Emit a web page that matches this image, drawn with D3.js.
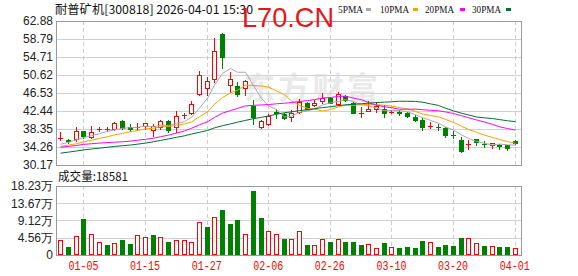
<!DOCTYPE html>
<html><head><meta charset="utf-8">
<script src="https://cdn.jsdelivr.net/npm/d3@7/dist/d3.min.js"></script>
<style>html,body{margin:0;padding:0;background:#fff;}svg{display:block;}</style>
</head><body>
<script>
// ---- data ----
const title = "耐普矿机[300818] 2026-04-01 15:30";
const tickIndex  = [3, 11, 19, 27, 35, 43, 51, 59];
const tickLabels = ["01-05","01-15","01-27","02-06","02-26","03-10","03-20","04-01"];
const priceTicks = [62.88,58.79,54.71,50.62,46.53,42.44,38.35,34.26,30.17];
const volTicks = [18.23,13.67,9.12,4.56,0];
const volTickLabels = ["18.23万","13.67万","9.12万","4.56万","0"];
const open  = [36.2,35.75,36.0,37.9,36.6,38.3,38.3,38.4,40.1,38.7,
               38.8,39.0,38.2,38.9,40.1,38.7,41.3,41.9,46.2,47.7,
               49.6,59.9,48.3,48.1,47.6,43.6,38.9,39.4,42.2,41.7,
               41.0,42.1,44.3,43.7,44.6,45.3,44.0,45.85,44.3,41.85,
               42.5,42.8,42.9,42.2,42.3,42.05,41.1,40.4,38.8,38.9,
               38.6,37.05,35.85,34.8,36.0,34.95,34.65,34.7,34.6,35.55];
const close = [36.25,35.65,37.9,36.75,37.6,38.45,38.35,39.6,38.5,38.3,
               38.9,39.6,39.0,40.1,38.1,41.4,41.5,44.0,50.6,49.3,
               56.1,54.8,49.7,46.3,49.3,41.0,40.1,41.4,42.0,40.9,
               41.9,44.5,43.0,44.3,45.3,44.3,46.2,44.95,42.05,41.95,
               42.9,43.6,42.05,42.3,41.9,41.3,40.4,38.9,38.95,38.8,
               37.0,36.95,33.4,34.9,35.4,34.85,35.1,34.4,34.0,35.1];
const high  = [37.7,36.15,38.9,38.0,39.0,38.9,38.8,39.9,40.4,39.4,
               39.6,39.7,39.4,40.5,40.4,42.5,41.9,44.6,51.6,50.2,
               59.0,60.1,51.4,49.1,49.5,44.9,40.5,41.7,42.8,41.9,
               42.7,45.2,44.5,44.9,46.6,45.6,46.8,46.0,44.5,43.3,
               44.8,44.55,43.8,42.6,42.66,42.3,41.5,40.8,40.0,39.4,
               38.9,37.9,36.5,35.85,36.1,35.6,35.2,34.9,34.7,35.85];
const low   = [35.85,35.25,35.7,36.2,36.4,37.8,37.8,38.1,38.3,38.0,
               38.1,38.3,36.8,38.3,37.7,37.7,40.8,41.7,46.0,46.1,
               49.1,52.1,46.8,45.8,46.1,39.5,38.6,39.3,40.9,40.7,
               40.2,41.9,42.8,43.6,44.3,44.2,43.8,44.7,41.9,41.0,
               42.4,42.3,41.0,41.9,41.5,41.0,40.2,38.1,38.5,38.1,
               36.6,36.4,33.1,33.8,34.7,34.3,34.0,33.8,33.6,34.9];
const volume = [3.96,2.03,5.02,9.51,5.46,3.43,2.55,3.08,3.96,2.91,
                5.2,4.67,5.28,4.67,3.43,3.96,3.96,3.43,8.63,7.4,
                9.95,11.9,8.28,9.25,5.55,16.9,9.78,6.25,5.55,4.23,
                4.23,6.25,2.64,2.55,4.14,3.43,4.14,3.43,3.43,2.64,
                2.91,1.76,3.26,2.03,1.76,2.03,1.76,3.7,3.35,2.03,
                2.55,2.29,4.4,4.4,3.08,2.29,2.29,2.03,2.03,1.86];
// moving-average values before enough in-window closes exist
const ma5Head  = [34.9,35.3,35.9,36.4];
const ma10Head = [34.4,34.7,35.0,35.4,35.8,36.2,36.6,37.0,37.35];
const ma20Head = [34.2,34.4,34.6,34.85,35.0,35.15,35.25,35.35,35.45,35.6,35.8,36.0,36.25,36.6,36.95,37.4,37.9,38.5,39.3];
const ma30Head = [32.85,33.1,33.35,33.6,33.8,34.0,34.2,34.4,34.55,34.7,34.9,35.15,35.45,35.75,36.1,36.45,36.8,37.2,37.6,38.0,38.6,39.1,39.5,39.9,40.3,40.7,41.0,41.3,41.7];
const lastVolLabel = "18581";

// ---- layout ----
const W = 578, H = 276;
const L = 56, R = 522;
const pTop = 21, pBot = 165, vTop = 186, vBot = 255;
const RED = "#ff0000", GREEN = "#008000";
const maDefs = [
  {name:"5PMA", n:5, head:ma5Head, color:"#a8a8a8", lx:338, sx:366},
  {name:"10PMA", n:10, head:ma10Head, color:"#f5a300", lx:380, sx:413},
  {name:"20PMA", n:20, head:ma20Head, color:"#ff00ff", lx:425, sx:460},
  {name:"30PMA", n:30, head:ma30Head, color:"#007034", lx:472, sx:506}
];

const svg = d3.select("body").append("svg").attr("width", W).attr("height", H)
  .style("font-family", "'Liberation Sans', Arial, sans-serif");
svg.append("rect").attr("width", W).attr("height", H).attr("fill", "#fff");

const idx = d3.range(close.length);
const x = d3.scaleBand().domain(idx).range([56.5, 518.5]);
const cx = i => Math.round(x(i) + x.bandwidth() / 2);
const y = d3.scaleLinear().domain([30.17, 62.88]).range([pBot, pTop]);
const yv = d3.scaleLinear().domain([0, 18.23]).range([vBot, vTop]);

// grid
const grid = svg.append("g").attr("shape-rendering", "crispEdges");
grid.selectAll(".hp").data(priceTicks.slice(1, -1)).join("line")
  .attr("x1", L).attr("x2", R).attr("y1", d => Math.round(y(d)) + 0.5).attr("y2", d => Math.round(y(d)) + 0.5)
  .attr("stroke", "#d0d0d0");
grid.selectAll(".hv").data(volTicks.slice(1, -1)).join("line")
  .attr("x1", L).attr("x2", R).attr("y1", d => Math.round(yv(d)) + 0.5).attr("y2", d => Math.round(yv(d)) + 0.5)
  .attr("stroke", "#d0d0d0");
[[pTop, pBot], [vTop, vBot]].forEach(([a, b]) => {
  grid.append("g").selectAll("line").data(tickIndex).join("line")
    .attr("x1", d => cx(d) + 0.5).attr("x2", d => cx(d) + 0.5).attr("y1", a).attr("y2", b)
    .attr("stroke", "#cccccc").attr("stroke-dasharray", "4,3");
});

// faint watermark
svg.append("text").attr("x", 244).attr("y", 99).text("东方财富")
  .attr("font-family", "'Noto Sans CJK SC', sans-serif").attr("font-size", 31).attr("font-weight", "bold")
  .attr("fill", "#d8d8d8").attr("opacity", 0.55).attr("textLength", 134);

// candles
const cg = svg.append("g").attr("shape-rendering", "crispEdges");
idx.forEach(i => {
  const up = close[i] >= open[i];
  const col = up ? RED : GREEN;
  const c = cx(i);
  const yt = Math.round(y(Math.max(open[i], close[i])));
  const yb = Math.round(y(Math.min(open[i], close[i])));
  cg.append("line").attr("x1", c + 0.5).attr("x2", c + 0.5)
    .attr("y1", Math.round(y(high[i]))).attr("y2", Math.round(y(low[i])) + 1).attr("stroke", col);
  if (up) {
    if (yb - yt < 2) {
      cg.append("rect").attr("x", c - 2).attr("y", yt).attr("width", 5).attr("height", Math.max(1, yb - yt)).attr("fill", col);
    } else {
      cg.append("rect").attr("x", c - 2 + 0.5).attr("y", yt + 0.5).attr("width", 4).attr("height", yb - yt)
        .attr("fill", "#fff").attr("stroke", col);
    }
  } else {
    cg.append("rect").attr("x", c - 2).attr("y", yt).attr("width", 5).attr("height", Math.max(1, yb - yt + 1)).attr("fill", col);
  }
});

// moving averages
maDefs.forEach(m => {
  const vals = idx.map(i => i < m.n - 1 ? m.head[i] : d3.mean(close.slice(i - m.n + 1, i + 1)));
  svg.append("path").datum(vals)
    .attr("d", d3.line().x((d, i) => cx(i) + 0.5).y(d => y(d)))
    .attr("fill", "none").attr("stroke", m.color).attr("stroke-width", 1);
});

// volume bars
const vg = svg.append("g").attr("shape-rendering", "crispEdges");
idx.forEach(i => {
  const up = i === 0 ? close[i] >= open[i] : close[i] >= close[i - 1];
  const c = cx(i);
  const yt = Math.round(yv(volume[i]));
  if (up) {
    vg.append("rect").attr("x", c - 2 + 0.5).attr("y", yt + 0.5).attr("width", 4).attr("height", vBot - yt - 1)
      .attr("fill", "#fff").attr("stroke", RED);
  } else {
    vg.append("rect").attr("x", c - 2).attr("y", yt).attr("width", 5).attr("height", vBot - yt).attr("fill", GREEN);
  }
});

// borders
const bd = svg.append("g").attr("shape-rendering", "crispEdges").attr("fill", "none").attr("stroke", "#9a9a9a");
bd.append("rect").attr("x", L + 0.5).attr("y", pTop + 0.5).attr("width", R - L - 1).attr("height", pBot - pTop);
bd.append("rect").attr("x", L + 0.5).attr("y", vTop + 0.5).attr("width", R - L - 1).attr("height", vBot - vTop);

// axes
const ya = svg.append("g").attr("transform", `translate(${L},0)`)
  .call(d3.axisLeft(y).tickValues(priceTicks).tickFormat(d3.format(".2f")).tickSize(0).tickPadding(3));
const yva = svg.append("g").attr("transform", `translate(${L},0)`)
  .call(d3.axisLeft(yv).tickValues(volTicks).tickFormat((d, i) => volTickLabels[i]).tickSize(0).tickPadding(3));
[ya, yva].forEach(g => {
  g.select(".domain").remove();
  g.selectAll("text").attr("font-family", "'Liberation Sans', Arial, sans-serif").attr("font-size", 12).attr("fill", "#222");
});
const xa = svg.append("g").attr("transform", `translate(0,${vBot})`)
  .call(d3.axisBottom(x).tickValues(tickIndex).tickFormat((d, i) => tickLabels[i]).tickSize(0).tickPadding(6));
xa.select(".domain").remove();
xa.selectAll("text").attr("font-family", "'Liberation Mono', monospace").attr("font-size", 12)
  .attr("fill", RED).attr("textLength", 30).attr("lengthAdjust", "spacingAndGlyphs");

// title & legend
svg.append("text").attr("x", 55).attr("y", 14).text(title)
  .attr("font-family", "'Noto Sans CJK SC', sans-serif").attr("font-size", 12).attr("fill", "#111")
  .attr("textLength", 198).attr("lengthAdjust", "spacingAndGlyphs");
maDefs.forEach(m => {
  svg.append("text").attr("x", m.lx).attr("y", 12.5).text(m.name)
    .attr("font-family", "'Liberation Serif', serif").attr("font-size", 11).attr("fill", "#111")
    .attr("textLength", m.name.length === 4 ? 25 : 29).attr("lengthAdjust", "spacingAndGlyphs");
  svg.append("rect").attr("x", m.sx).attr("y", 8).attr("width", 5).attr("height", 3).attr("fill", m.color);
});
svg.append("text").attr("x", 58).attr("y", 181).text("成交量:" + lastVolLabel)
  .attr("font-family", "'Noto Sans CJK SC', sans-serif").attr("font-size", 12).attr("fill", "#111")
  .attr("textLength", 70).attr("lengthAdjust", "spacingAndGlyphs");

// site mark
svg.append("text").attr("x", 242).attr("y", 27).text("L70.CN")
  .attr("font-family", "'Liberation Sans', Arial, sans-serif").attr("font-size", 28).attr("fill", "#e8141c")
  .attr("textLength", 92).attr("lengthAdjust", "spacingAndGlyphs");
</script>
</body></html>
